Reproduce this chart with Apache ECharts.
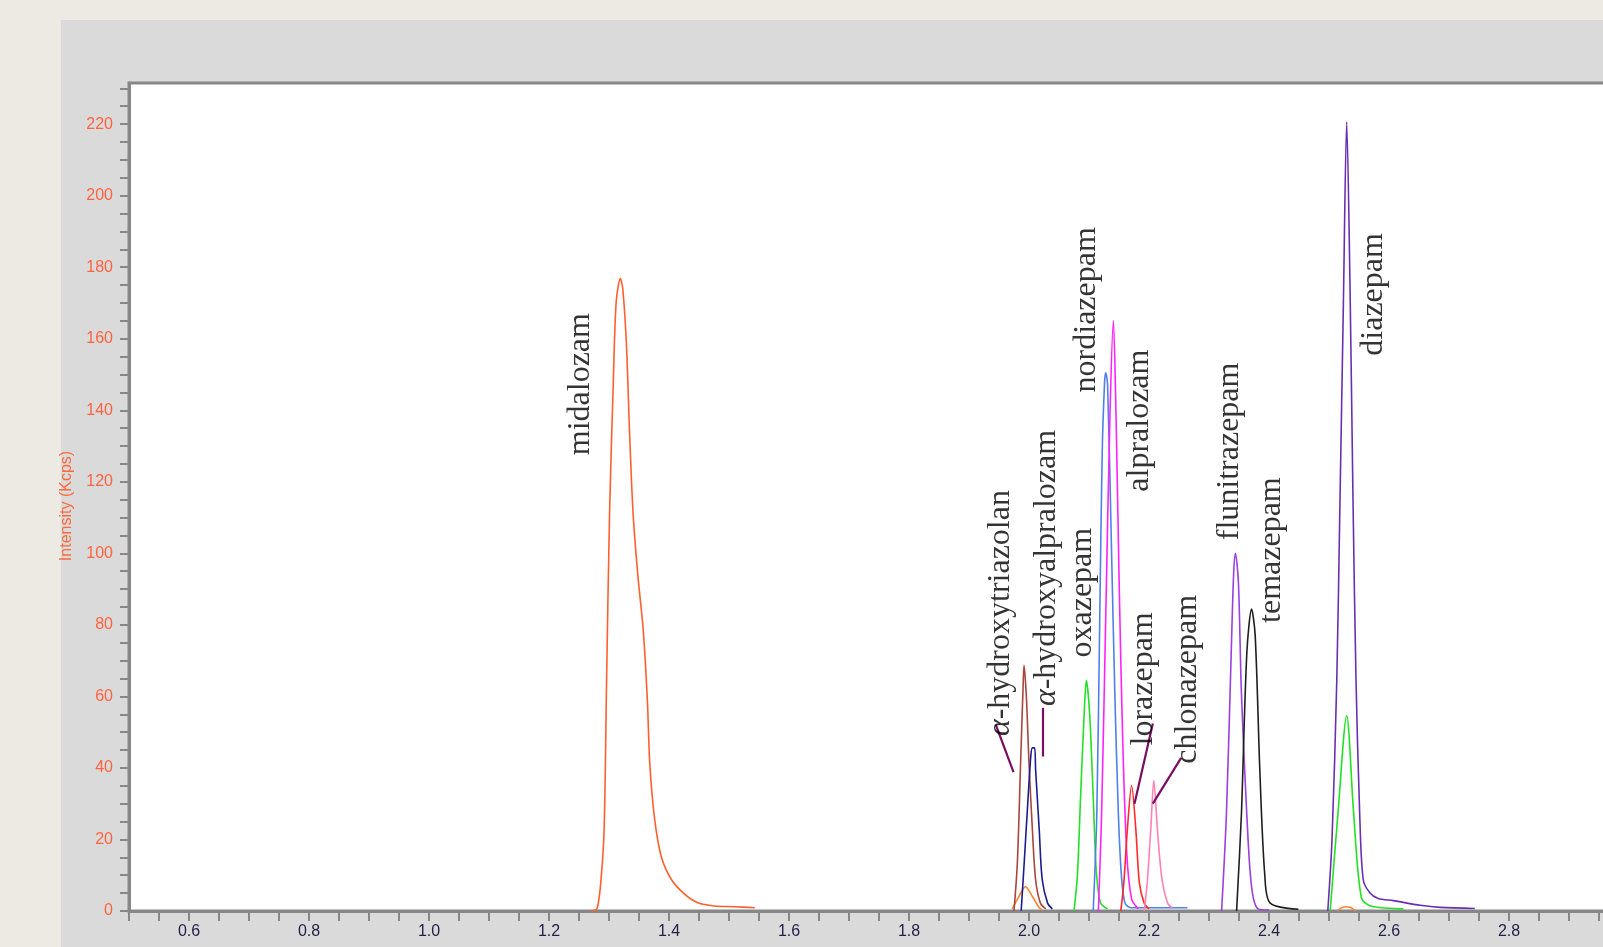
<!DOCTYPE html>
<html>
<head>
<meta charset="utf-8">
<script src="https://cdn.jsdelivr.net/npm/echarts@6/dist/echarts.min.js"></script>
<style>
  html, body { margin: 0; padding: 0; width: 1603px; height: 947px; overflow: hidden; background: #EDEAE3; }
  #panel { position: absolute; left: 61px; top: 20px; right: 0; bottom: 0; background: #DADADA; }
  #chart { position: absolute; left: 0; top: 0; width: 1603px; height: 947px; }
</style>
</head>
<body>
<div id="panel"></div>
<div id="chart"></div>
<script>
// ---- data (retention time in min, intensity in Kcps) ----
const midazolamT = [1.270, 1.280, 1.287, 1.292, 1.296, 1.301, 1.307, 1.312, 1.319, 1.323, 1.329, 1.334, 1.340, 1.348, 1.357, 1.364, 1.368, 1.376, 1.387, 1.404, 1.426, 1.448, 1.476, 1.509, 1.543];
const midazolamI = [0, 0.6, 9.4, 23.5, 64.6, 111.6, 146.8, 170.3, 176.8, 173.9, 158.6, 135.1, 111.6, 94.0, 78.7, 58.7, 41.1, 25.8, 15.3, 8.8, 4.7, 2.3, 1.4, 1.2, 0.9];

const ohTriazolamT = [1.975, 1.9806, 1.986, 1.990, 1.9917, 1.9956, 2.000, 2.0056, 2.011, 2.019, 2.028];
const ohTriazolamI = [0, 13.5, 41.4, 61.9, 68.7, 60, 41.4, 22.9, 8.8, 2.2, 0.6];

const ohAlprazolamT = [1.987, 1.992, 1.997, 2.003, 2.0056, 2.0094, 2.011, 2.017, 2.022, 2.031, 2.039];
const ohAlprazolamI = [0.1, 13.5, 27.5, 43.3, 45.6, 45.6, 39.6, 22.9, 8.8, 2.2, 0.6];

const minorOrange1T = [1.972, 1.983, 1.994, 2.006, 2.017, 2.022];
const minorOrange1I = [0.5, 4, 6.8, 4, 0.9, 0.3];

const oxazepamT = [2.075, 2.0806, 2.086, 2.092, 2.0956, 2.101, 2.107, 2.112, 2.119, 2.131];
const oxazepamI = [0, 9.7, 32.1, 55.3, 64.5, 55.3, 32.1, 11.6, 2.3, 0.6];

const nordiazepamT = [2.107, 2.113, 2.118, 2.122, 2.126, 2.128, 2.131, 2.137, 2.143, 2.149, 2.154, 2.160, 2.170, 2.264];
const nordiazepamI = [0, 27, 83, 128, 148, 150.5, 147, 105, 61, 27, 10, 2.2, 0.9, 0.9];

const alprazolamT = [2.1156, 2.121, 2.128, 2.135, 2.1406, 2.145, 2.150, 2.156, 2.163, 2.171, 2.182];
const alprazolamI = [0, 27, 83, 139, 165, 139, 94, 49, 16, 3.4, 0.6];

const lorazepamT = [2.153, 2.158, 2.164, 2.171, 2.178, 2.184, 2.192, 2.200];
const lorazepamI = [0, 7.8, 22.9, 35.1, 22.9, 7.8, 2.2, 0.6];

const clonazepamT = [2.192, 2.197, 2.203, 2.208, 2.214, 2.221, 2.231, 2.239];
const clonazepamI = [0, 7.8, 22.9, 36.5, 22.9, 9.7, 2.2, 0.9];

const flunitrazepamT = [2.321, 2.329, 2.337, 2.341, 2.344, 2.349, 2.354, 2.363, 2.371, 2.382, 2.400];
const flunitrazepamI = [0, 27, 72, 94, 100, 92, 61, 27, 6.7, 0.6, 0.3];

const temazepamT = [2.346, 2.354, 2.363, 2.371, 2.377, 2.385, 2.393, 2.402, 2.449];
const temazepamI = [0, 27, 72, 84.4, 77, 38, 10, 2.2, 0.5];

const diazepamT = [2.498, 2.505, 2.513, 2.518, 2.524, 2.5295, 2.535, 2.540, 2.545, 2.551, 2.557, 2.568, 2.582, 2.607, 2.652, 2.685, 2.743];
const diazepamI = [0, 20, 64.7, 111.6, 170, 220.6, 175, 115, 64.7, 28, 8.8, 5.1, 3.5, 2.9, 1.6, 1.0, 0.7];

const diazepamGreenT = [2.502, 2.515, 2.5295, 2.541, 2.554, 2.571, 2.624];
const diazepamGreenI = [0, 27.4, 54.6, 27.5, 3.7, 1.3, 0.6];

const minorOrange2T = [2.514, 2.521, 2.529, 2.537, 2.544];
const minorOrange2I = [0, 0.9, 1.2, 0.9, 0];

// peak labels (text, time, intensity of label centre)
const labelTexts = ['midalozam', '{it|α}-hydroxytriazolan', '{it|α}-hydroxyalpralozam', 'oxazepam', 'nordiazepam', 'alpralozam', 'lorazepam', 'chlonazepam', 'flunitrazepam', 'temazepam', 'diazepam'];
const labelT = [1.2525, 1.9527, 2.0296, 2.0885, 2.0953, 2.1835, 2.191, 2.264, 2.335, 2.405, 2.575];
const labelI = [147.3, 83.3, 95.9, 89.0, 168.1, 137.1, 64.9, 64.8, 128.5, 100.9, 172.4];

// callout leader lines
const calloutStartT = [1.9446, 2.0227, 2.2064, 2.2536];
const calloutStartI = [52.1, 56.8, 52.4, 42.8];
const calloutEndT = [1.9742, 2.0227, 2.1758, 2.2064];
const calloutEndI = [38.8, 43.2, 30.0, 30.0];

// axis ticks
const xMin = 0.5, xMax = 3.0, xTickStep = 0.05;
const yMin = 0, yMax = 231.5, yTickStep = 5;

// ---- build ----
function pairs(t, i) { return t.map((v, k) => [v, i[k]]); }

const traces = [
  { t: midazolamT, i: midazolamI, color: '#FF5F2E' },
  { t: minorOrange1T, i: minorOrange1I, color: '#FF7F33' },
  { t: ohTriazolamT, i: ohTriazolamI, color: '#A8463E' },
  { t: ohAlprazolamT, i: ohAlprazolamI, color: '#1C1C8E' },
  { t: oxazepamT, i: oxazepamI, color: '#22E022' },
  { t: nordiazepamT, i: nordiazepamI, color: '#4F7FEA' },
  { t: alprazolamT, i: alprazolamI, color: '#FF22FF' },
  { t: lorazepamT, i: lorazepamI, color: '#FF2A2A' },
  { t: clonazepamT, i: clonazepamI, color: '#FF82B2' },
  { t: flunitrazepamT, i: flunitrazepamI, color: '#9B3FE0' },
  { t: temazepamT, i: temazepamI, color: '#1E1E1E' },
  { t: minorOrange2T, i: minorOrange2I, color: '#FF7F33' },
  { t: diazepamGreenT, i: diazepamGreenI, color: '#22E022' },
  { t: diazepamT, i: diazepamI, color: '#6A2FB0' }
];

const series = traces.map(tr => ({
  type: 'line',
  data: pairs(tr.t, tr.i),
  showSymbol: false,
  smooth: 0.3,
  silent: true,
  lineStyle: { color: tr.color, width: 1.6 },
  z: 3
}));

series.push({
  type: 'lines',
  coordinateSystem: 'cartesian2d',
  silent: true,
  z: 4,
  lineStyle: { color: '#7A0E62', width: 2.2, opacity: 1 },
  data: calloutStartT.map((v, k) => ({ coords: [[v, calloutStartI[k]], [calloutEndT[k], calloutEndI[k]]] }))
});

series.push({
  type: 'scatter',
  silent: true,
  symbolSize: 1,
  itemStyle: { color: 'rgba(0,0,0,0)' },
  z: 5,
  data: labelTexts.map((txt, k) => ({ name: txt, value: [labelT[k], labelI[k]] })),
  label: {
    show: true,
    position: 'inside',
    rotate: 90,
    formatter: p => p.name,
    fontFamily: 'Liberation Serif',
    fontSize: 32,
    color: '#000',
    rich: { it: { fontStyle: 'italic', fontFamily: 'Liberation Serif', fontSize: 32, color: '#000' } }
  }
});

const chart = echarts.init(document.getElementById('chart'));
chart.setOption({
  animation: false,
  backgroundColor: 'transparent',
  grid: {
    left: 129, top: 83, width: 1500, height: 828,
    outerBoundsMode: 'none', containLabel: false,
    show: true, backgroundColor: '#FFFFFF', borderColor: '#878787', borderWidth: 3
  },
  xAxis: {
    type: 'value', min: xMin, max: xMax, interval: xTickStep,
    axisLine: { show: true, lineStyle: { color: '#878787', width: 3 } },
    axisTick: { show: true, inside: false, length: 10, lineStyle: { color: '#878787', width: 2 } },
    splitLine: { show: false },
    axisLabel: {
      margin: 13, color: '#23234A', fontFamily: 'Liberation Sans', fontSize: 16,
      formatter: v => { const r = Math.round(v * 100); return (r % 20 === 0 && r >= 60) ? (r / 100).toFixed(1) : ''; }
    }
  },
  yAxis: {
    type: 'value', min: yMin, max: yMax, interval: yTickStep,
    name: 'Intensity (Kcps)', nameLocation: 'middle', nameRotate: 90, nameGap: 54,
    nameTextStyle: { color: '#FF6A3D', fontFamily: 'Liberation Sans', fontSize: 16, padding: [0, 18, 0, 0] },
    axisLine: { show: true, lineStyle: { color: '#878787', width: 3 } },
    axisTick: { show: true, inside: false, length: 9, lineStyle: { color: '#878787', width: 2 } },
    splitLine: { show: false },
    axisLabel: {
      margin: 16, color: '#FF6340', fontFamily: 'Liberation Sans', fontSize: 16, showMaxLabel: false,
      formatter: v => (Math.round(v) % 20 === 0 && Math.abs(v - Math.round(v)) < 1e-6) ? String(Math.round(v)) : ''
    }
  },
  series: series
});
</script>
</body>
</html>
